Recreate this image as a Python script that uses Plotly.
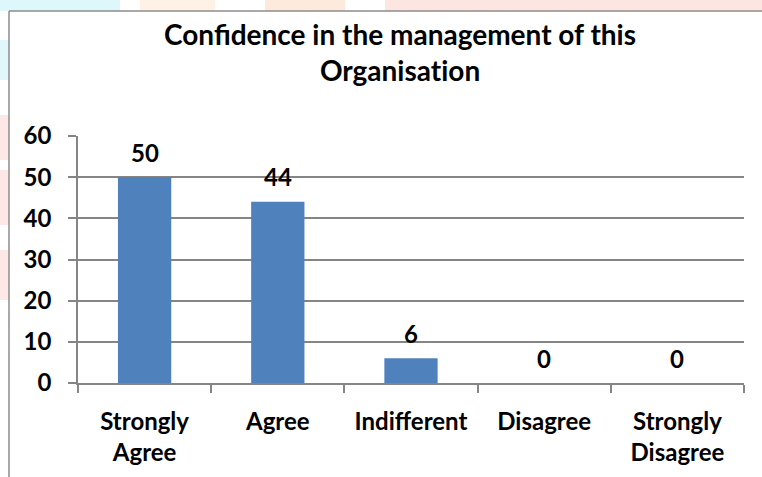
import plotly.graph_objects as go

# Survey responses
categories = ["Strongly<br>Agree", "Agree", "Indifferent", "Disagree", "Strongly<br>Disagree"]
responses = [50, 44, 6, 0, 0]
y_ticks = [0, 10, 20, 30, 40, 50, 60]

W, H = 762, 477
L, R, T, B = 78, 18, 136, 94
FONT = "Lato"


def px_x(x):
    # pixel -> paper x
    return (x - L) / (W - L - R)


def px_y(y):
    # pixel -> paper y
    return (H - B - y) / (H - T - B)


fig = go.Figure()
fig.add_trace(
    go.Bar(
        x=categories,
        y=responses,
        marker=dict(color="#4F81BD", line=dict(width=0)),
        hoverinfo="x+y",
    )
)

# value labels above each bar
for cat, val in zip(categories, responses):
    fig.add_annotation(
        x=cat, y=val, text=str(val), showarrow=False,
        yanchor="middle", yshift=25,
        font=dict(family=FONT, size=24, color="black", weight="bold"),
    )

# faint watermark blobs behind the chart frame
blobs = [
    (0, -2, 120, 11, "#def7fb"),
    (140, -2, 215, 11, "#fef1e6"),
    (265, -2, 345, 11, "#feeadd"),
    (385, -2, 762, 11, "#fde6e2"),
    (-2, 40, 9, 80, "#e2f7fb"),
    (-2, 115, 9, 160, "#fde8e6"),
    (-2, 170, 9, 225, "#fde8e6"),
    (-2, 250, 9, 300, "#fde8e6"),
]
shapes = []
for x0, y0, x1, y1, c in blobs:
    shapes.append(
        dict(type="rect", xref="paper", yref="paper", layer="below",
             x0=px_x(x0), x1=px_x(x1), y0=px_y(y0), y1=px_y(y1),
             fillcolor=c, line=dict(width=0))
    )
# chart frame (left and top edges)
shapes.append(dict(type="line", xref="paper", yref="paper",
                   x0=px_x(9), x1=px_x(9), y0=px_y(11), y1=px_y(H + 2),
                   line=dict(color="#8c8c8c", width=1.5)))
shapes.append(dict(type="line", xref="paper", yref="paper",
                   x0=px_x(9), x1=px_x(W + 2), y0=px_y(11), y1=px_y(11),
                   line=dict(color="#8c8c8c", width=1.5)))

fig.update_layout(
    width=W,
    height=H,
    margin=dict(l=L, r=R, t=T, b=B, pad=0),
    paper_bgcolor="white",
    plot_bgcolor="white",
    showlegend=False,
    bargap=0.6,
    title=dict(
        # zero-width non-joiner keeps Lato from using its "ti" ligature
        text="Confidence in the management of this<br>Organisat\u200cion",
        x=0.525,
        xanchor="center",
        yref="container",
        y=1 - 45 / H,
        yanchor="middle",
        font=dict(family=FONT, size=28, color="black", weight="bold"),
    ),
    font=dict(family=FONT, color="black"),
    shapes=shapes,
)
fig.update_xaxes(
    type="category",
    showline=True,
    linecolor="#858585",
    linewidth=1.5,
    ticks="outside",
    tickson="boundaries",
    ticklen=8,
    tickcolor="#858585",
    tickwidth=1.5,
    showgrid=False,
    ticklabelstandoff=16,
    tickfont=dict(family=FONT, size=24, color="black", weight="bold"),
)
fig.update_yaxes(
    range=[0, 60],
    tickvals=y_ticks,
    showline=True,
    linecolor="#858585",
    linewidth=1.5,
    ticks="outside",
    ticklen=8,
    tickcolor="#858585",
    tickwidth=1.5,
    showgrid=True,
    gridcolor="#858585",
    gridwidth=1.5,
    zeroline=False,
    ticklabelstandoff=12,
    tickfont=dict(family=FONT, size=24, color="black", weight="bold"),
)

# drop the browser's default body margin so the figure fills the window
fig.write_html(
    "out.html",
    config={"displayModeBar": False},
    post_script="document.body.style.margin = '0';",
)
